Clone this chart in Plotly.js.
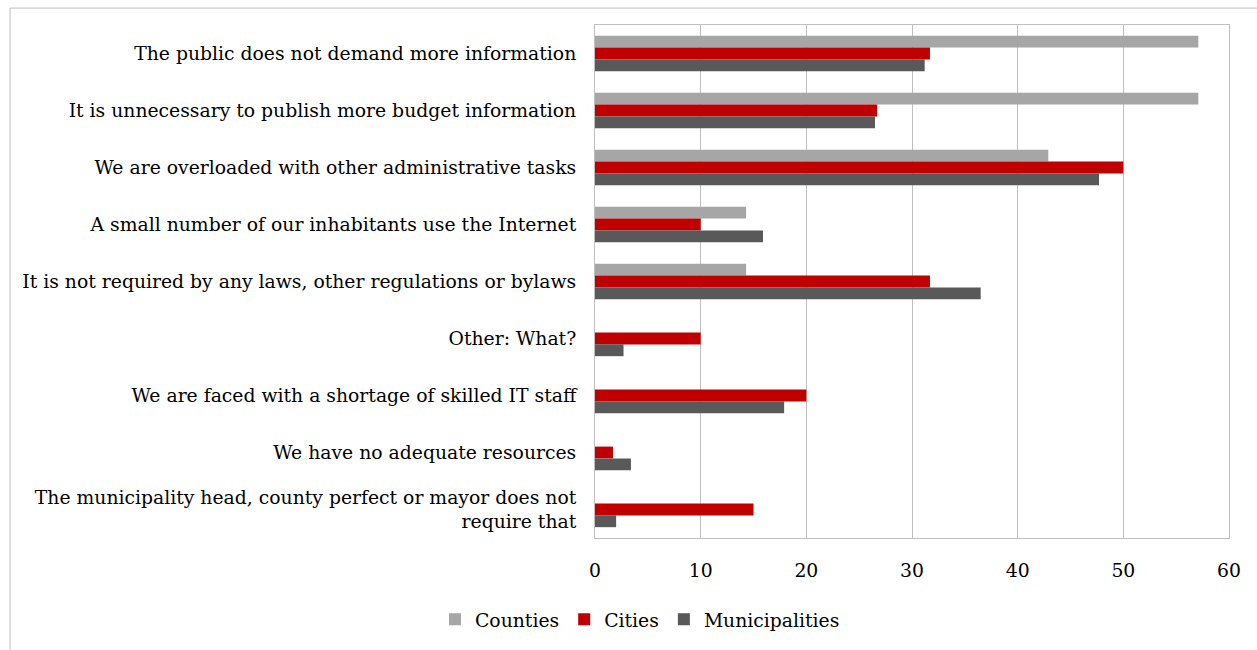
<!DOCTYPE html>
<html>
<head>
<meta charset="utf-8">
<script src="https://cdn.plot.ly/plotly-3.0.1.min.js"></script>
<style>html,body{margin:0;padding:0;background:#fff;}#chart{width:1257px;height:650px;}</style>
</head>
<body>
<div id="chart"></div>
<script>
const categories = [
  "The public does not demand more information",
  "It is unnecessary to publish more budget information",
  "We are overloaded with other administrative tasks",
  "A small number of our inhabitants use the Internet",
  "It is not required by any laws, other regulations or bylaws",
  "Other: What?",
  "We are faced with a shortage of skilled IT staff",
  "We have no adequate resources",
  "The municipality head, county perfect or mayor does not<br>require that"
];
const counties = [57.1, 57.1, 42.9, 14.3, 14.3, 0, 0, 0, 0];
const cities = [31.7, 26.7, 50.0, 10.0, 31.7, 10.0, 20.0, 1.7, 15.0];
const municipalities = [31.2, 26.5, 47.7, 15.9, 36.5, 2.7, 17.9, 3.4, 2.0];
const seriesNames = ["Counties", "Cities", "Municipalities"];
const tickVals = [0, 10, 20, 30, 40, 50, 60];

const colors = ["#a6a6a6", "#c00000", "#595959"];
const fontFam = "DejaVu Serif, serif";
const fs = 18.8;
const allSeries = [counties, cities, municipalities];

const traces = allSeries.map((vals, i) => ({
  type: "bar",
  orientation: "h",
  name: seriesNames[i],
  x: vals,
  y: categories,
  marker: {color: colors[i]},
  hoverinfo: "x+name"
}));

const L = 595, R = 1229, T = 25, B = 541, W = 1257, H = 650;
const pw = R - L, ph = B - T;

const layout = {
  width: W, height: H,
  margin: {l: L, r: W - R, t: T, b: H - B, pad: 0},
  paper_bgcolor: "#ffffff",
  plot_bgcolor: "#ffffff",
  barmode: "group",
  bargap: 0.38,
  bargroupgap: 0,
  font: {family: fontFam, size: fs, color: "#000000"},
  xaxis: {
    range: [0, 60],
    tickvals: tickVals,
    ticktext: tickVals.map(String),
    showgrid: true,
    gridcolor: "#bfbfbf",
    gridwidth: 1,
    zeroline: false,
    showline: true,
    linecolor: "#bfbfbf",
    mirror: true,
    ticks: "",
    ticklabelstandoff: 15,
    tickfont: {family: fontFam, size: fs, color: "#000"},
    fixedrange: true
  },
  yaxis: {
    autorange: "reversed",
    type: "category",
    showgrid: false,
    showline: true,
    linecolor: "#bfbfbf",
    mirror: true,
    ticks: "",
    ticklabelstandoff: 14,
    tickfont: {family: fontFam, size: fs, color: "#000"},
    fixedrange: true
  },
  legend: {
    orientation: "h",
    x: (640 - L) / pw, xanchor: "center",
    y: -(623 - B) / ph, yanchor: "middle",
    font: {family: fontFam, size: fs, color: "#000"},
    itemwidth: 30,
    traceorder: "normal"
  },
  shapes: [{
    type: "rect", xref: "paper", yref: "paper",
    x0: (10 - L) / pw, x1: (1262 - L) / pw,
    y0: (B - 660) / ph, y1: (B - 8) / ph,
    line: {color: "#bfbfbf", width: 1},
    fillcolor: "rgba(0,0,0,0)",
    layer: "below"
  }],
  showlegend: true
};

Plotly.newPlot("chart", traces, layout, {displayModeBar: false, responsive: false});
</script>
</body>
</html>
